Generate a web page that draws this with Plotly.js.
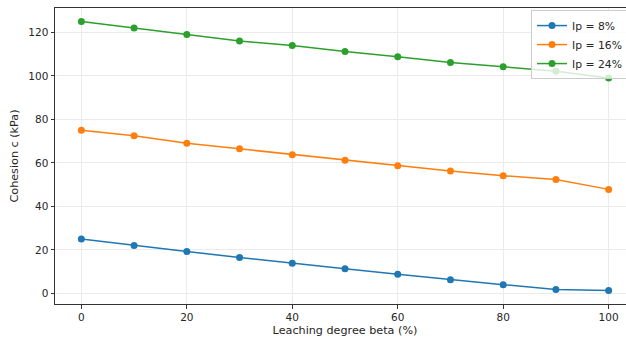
<!DOCTYPE html>
<html>
<head>
<meta charset="utf-8">
<script src="https://cdn.plot.ly/plotly-3.0.1.min.js"></script>
<style>
html,body{margin:0;padding:0;overflow:hidden;background:#fff;}
#chart{width:635px;height:338px;}
</style>
</head>
<body>
<div id="chart"></div>
<script>
const beta = [0, 10, 20, 30, 40, 50, 60, 70, 80, 90, 100];
const ip8 = [25, 22, 19.2, 16.5, 13.8, 11.3, 8.8, 6.3, 4.0, 1.8, 1.3];
const ip16 = [75, 72.5, 69, 66.5, 63.7, 61.2, 58.7, 56.2, 54.1, 52.3, 47.8];
const ip24 = [125, 122, 119, 116, 114, 111.2, 108.8, 106.1, 104.2, 102.1, 99];
const seriesNames = ["Ip = 8%", "Ip = 16%", "Ip = 24%"];
const colors = ["#1f77b4", "#ff7f0e", "#2ca02c"];
const xTicks = [0, 20, 40, 60, 80, 100];
const yTicks = [0, 20, 40, 60, 80, 100, 120];

const allY = [ip8, ip16, ip24];
const traces = allY.map((ys, i) => ({
  x: beta, y: ys, type: 'scatter', mode: 'lines+markers',
  name: seriesNames[i],
  line: {color: colors[i], width: 1.5},
  marker: {color: colors[i], size: 7}
}));

const tickFont = {family: 'DejaVu Sans, sans-serif', size: 10.5, color: '#262626'};
const titleFont = {family: 'DejaVu Sans, sans-serif', size: 11.2, color: '#262626'};
const axisCommon = {
  showline: true, linecolor: '#333', linewidth: 1, mirror: true,
  ticks: 'outside', ticklen: 3.5, tickwidth: 1, tickcolor: '#333',
  showgrid: true, gridcolor: '#ebebeb', gridwidth: 1,
  zeroline: false, tickfont: tickFont
};
const layout = {
  width: 635, height: 338,
  margin: {l: 55, r: 0, t: 8, b: 34},
  paper_bgcolor: '#fff', plot_bgcolor: '#fff',
  font: tickFont,
  showlegend: true,
  xaxis: Object.assign({}, axisCommon, {
    range: [-5, 105], tickvals: xTicks,
    title: {text: 'Leaching degree beta (%)', font: titleFont, standoff: 4}
  }),
  yaxis: Object.assign({}, axisCommon, {
    range: [-4.9, 131.2], tickvals: yTicks,
    title: {text: 'Cohesion c (kPa)', font: titleFont, standoff: 7}
  }),
  legend: {
    x: 0.8207, y: 0.993, xanchor: 'left', yanchor: 'top',
    bgcolor: 'rgba(255,255,255,0.8)', bordercolor: '#cccccc', borderwidth: 1,
    font: {family: 'DejaVu Sans, sans-serif', size: 10.8, color: '#262626'},
    tracegroupgap: 0, itemwidth: 30
  }
};
Plotly.newPlot('chart', traces, layout, {staticPlot: true, displayModeBar: false});
</script>
</body>
</html>
